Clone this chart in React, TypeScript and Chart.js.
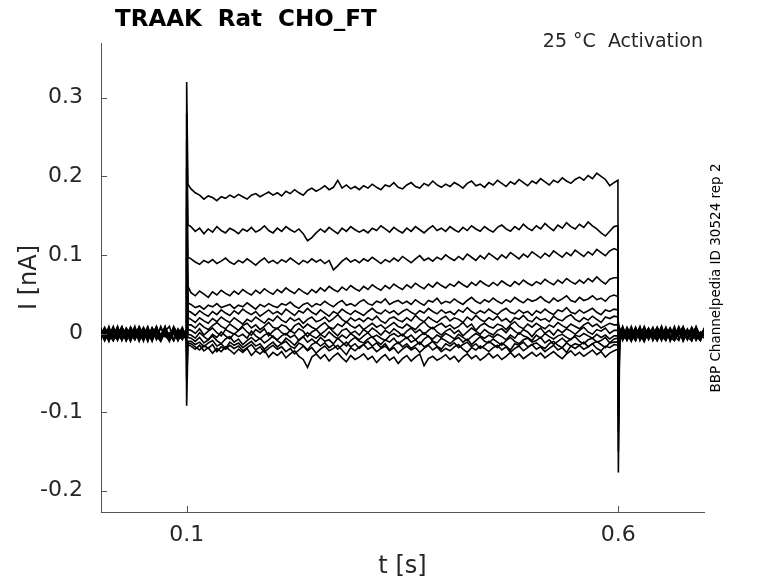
import { useEffect, useRef } from "react";
import { Chart, registerables, Plugin } from "chart.js";

Chart.register(...registerables);

// sample times (s): baseline, step onset, step (5 ms), step offset, tail
const times = [
  0, 0.005, 0.01, 0.015, 0.02, 0.025, 0.03, 0.035, 0.04, 0.045,
  0.05, 0.055, 0.06, 0.065, 0.07, 0.075, 0.08, 0.085, 0.09, 0.095, 0.0995,
  0.1, 0.1015,
  0.105, 0.11, 0.115, 0.12, 0.125, 0.13, 0.135, 0.14, 0.145, 0.15,
  0.155, 0.16, 0.165, 0.17, 0.175, 0.18, 0.185, 0.19, 0.195, 0.2,
  0.205, 0.21, 0.215, 0.22, 0.225, 0.23, 0.235, 0.24, 0.245, 0.25,
  0.255, 0.26, 0.265, 0.27, 0.275, 0.28, 0.285, 0.29, 0.295, 0.3,
  0.305, 0.31, 0.315, 0.32, 0.325, 0.33, 0.335, 0.34, 0.345, 0.35,
  0.355, 0.36, 0.365, 0.37, 0.375, 0.38, 0.385, 0.39, 0.395, 0.4,
  0.405, 0.41, 0.415, 0.42, 0.425, 0.43, 0.435, 0.44, 0.445, 0.45,
  0.455, 0.46, 0.465, 0.47, 0.475, 0.48, 0.485, 0.49, 0.495, 0.5,
  0.505, 0.51, 0.515, 0.52, 0.525, 0.53, 0.535, 0.54, 0.545, 0.55,
  0.555, 0.56, 0.565, 0.57, 0.575, 0.58, 0.585, 0.59, 0.595,
  0.5995, 0.6, 0.6015,
  0.605, 0.61, 0.615, 0.62, 0.625, 0.63, 0.635, 0.64, 0.645, 0.65,
  0.655, 0.66, 0.665, 0.67, 0.675, 0.68, 0.685, 0.69, 0.695, 0.7,
];

// current traces in pA, one per voltage step
const traceA = [
  6, -9, 4, -3, 8, -7, 2, -10, 5, -1, 7, -8, 3, -6, 9, -4, 1, -9, 6, -2, -5,
  320, 190,
  184, 179, 176, 171, 175, 173, 169, 174, 172, 176,
  173, 177, 174, 171, 176, 178, 174, 177, 180, 176,
  179, 175, 181, 178, 183, 179, 176, 182, 185, 181,
  184, 188, 183, 186, 195, 185, 189, 184, 187, 183,
  188, 185, 190, 186, 183, 189, 187, 192, 186, 184,
  189, 192, 187, 185, 191, 188, 194, 189, 186, 190,
  187, 192, 189, 185, 191, 194, 188, 190, 186, 192,
  189, 195, 191, 187, 193, 190, 196, 192, 188, 194,
  191, 197, 193, 189, 195, 192, 198, 194, 191, 196,
  199, 195, 201, 197, 204, 200, 196, 188, 192,
  195, -177,
  -8, 5, -9, 3, -4, 8, -10, 2, -6, 7, -3, -9, 4, -1, 6, -8, 1, -5, 7, -7, 2,
];
const traceB = [
  -7, 4, -10, 6, -2, -8, 5, -4, 9, -9, 1, -5, 7, -3, -10, 3, -6, 8, -1, -8, 4,
  280, 138,
  136, 130, 134, 127, 133, 129, 136, 131, 128, 134,
  131, 127, 133, 130, 135, 129, 132, 137, 131, 128,
  134, 130, 136, 132, 129, 133, 127, 118, 122, 128,
  133, 129, 135, 131, 127, 134, 130, 136, 132, 129,
  132, 128, 134, 131, 137, 133, 129, 135, 131, 128,
  134, 130, 136, 132, 128, 133, 137, 131, 134, 130,
  136, 132, 129, 135, 131, 137, 133, 130, 136, 132,
  129, 135, 138, 133, 130, 136, 132, 139, 134, 131,
  137, 133, 140, 135, 131, 138, 134, 141, 136, 133,
  139, 135, 142, 137, 133, 128, 124, 130, 136,
  137, -150,
  5, -9, 2, -6, 7, -3, -10, 4, -1, 8, -7, 3, -5, -9, 6, -2, 5, -8, 1, -4, 7,
];
const traceC = [
  3, -8, 7, -5, -1, 9, -9, 2, -4, 6, -7, 1, -10, 5, -3, 8, -6, 0, -9, 4, -2,
  245, 97,
  95, 91, 88, 93, 90, 94, 89, 92, 96, 91,
  88, 93, 90, 95, 91, 87, 92, 96, 90, 93,
  89, 94, 91, 96, 92, 88, 93, 90, 95, 91,
  94, 89, 93, 81, 86, 92, 96, 91, 94, 90,
  95, 92, 97, 93, 89, 94, 91, 96, 92, 98,
  94, 90, 95, 99, 93, 96, 92, 97, 94, 100,
  96, 93, 98, 94, 101, 97, 93, 99, 95, 102,
  98, 94, 100, 96, 103, 99, 95, 101, 97, 104,
  100, 96, 102, 98, 105, 101, 97, 103, 99, 106,
  102, 98, 104, 100, 107, 103, 99, 105, 108,
  106, -125,
  -6, 7, -3, -9, 4, -1, 8, -7, 2, -5, 9, -8, 3, -2, 6, -10, 1, 5, -6, -3, 7,
];
const traceD = [
  -5, 8, -2, -9, 4, -6, 7, -1, -8, 3, -10, 6, -4, 9, -7, 1, -3, 5, -9, 2, -6,
  210, 60,
  52, 48, 54, 50, 46, 53, 49, 55, 51, 48,
  54, 50, 56, 52, 49, 55, 51, 57, 53, 50,
  56, 52, 58, 54, 51, 57, 53, 50, 56, 52,
  58, 54, 60, 56, 53, 59, 55, 61, 57, 54,
  60, 56, 62, 58, 55, 61, 57, 63, 59, 56,
  62, 58, 64, 60, 57, 63, 59, 65, 61, 58,
  63, 60, 66, 62, 59, 65, 61, 67, 63, 60,
  65, 61, 67, 63, 60, 66, 62, 68, 64, 61,
  66, 63, 69, 65, 62, 68, 64, 70, 66, 63,
  68, 64, 70, 66, 72, 67, 63, 69, 71,
  71, -105,
  2, -7, 5, -10, 3, -2, 7, -8, 1, -4, 9, -6, 4, -9, 0, 6, -5, -1, 8, -7, 3,
];
const traceE = [
  7, -3, -9, 5, -6, 2, -8, 8, -1, -5, 4, -9, 6, -2, -7, 3, 9, -8, 1, -4, 5,
  180, 39,
  37, 33, 35, 31, 36, 34, 38, 33, 35, 37,
  32, 36, 34, 39, 35, 31, 37, 34, 38, 35,
  33, 38, 36, 40, 35, 32, 37, 39, 34, 38,
  36, 41, 37, 34, 39, 42, 36, 38, 35, 40,
  43, 38, 36, 41, 39, 44, 37, 40, 42, 38,
  41, 37, 43, 39, 36, 42, 40, 45, 38, 41,
  39, 44, 40, 37, 42, 46, 41, 38, 43, 40,
  45, 41, 38, 43, 40, 46, 42, 39, 44, 41,
  43, 47, 42, 39, 45, 41, 44, 48, 42, 40,
  46, 42, 44, 48, 43, 45, 41, 47, 49,
  47, -88,
  -4, 8, -6, 1, -9, 5, -2, 7, -8, 3, -5, 6, -10, 2, -1, 8, -7, 4, -3, -9, 6,
];
const traceF = [
  -9, 2, 6, -4, -7, 8, -1, -6, 3, -10, 5, -3, 7, -8, 0, 4, -5, 9, -2, -7, 1,
  160, 29,
  27, 23, 29, 25, 22, 28, 24, 30, 26, 23,
  29, 25, 31, 27, 24, 28, 22, 26, 30, 25,
  28, 24, 31, 27, 23, 29, 26, 32, 27, 24,
  30, 26, 22, 28, 25, 31, 27, 24, 29, 26,
  23, 28, 32, 27, 25, 30, 26, 29, 24, 28,
  31, 27, 24, 29, 26, 32, 28, 25, 30, 26,
  28, 24, 30, 27, 33, 28, 25, 29, 26, 31,
  27, 24, 29, 32, 27, 25, 30, 26, 28, 23,
  29, 26, 31, 27, 24, 30, 28, 33, 27, 25,
  30, 26, 29, 32, 27, 24, 30, 28, 31,
  30, -75,
  3, -6, 8, -2, -9, 5, -4, 1, -7, 7, -1, -8, 4, -5, 9, -3, 2, -9, 6, -2, -6,
];
const traceG = [
  4, -6, 9, -8, 1, -3, 6, -9, 3, -5, 8, -2, -7, 5, -4, 2, -10, 7, -1, -6, 3,
  140, 20,
  18, 14, 20, 16, 13, 19, 15, 21, 17, 14,
  20, 16, 12, 18, 15, 21, 17, 13, 19, 16,
  22, 17, 14, 20, 16, 19, 13, 18, 21, 15,
  17, 21, 15, 19, 24, 18, 14, 20, 16, 19,
  15, 20, 17, 22, 16, 13, 19, 21, 17, 15,
  20, 16, 23, 18, 15, 21, 17, 14, 19, 22,
  16, 20, 18, 14, 21, 17, 23, 18, 15, 20,
  17, 22, 16, 19, 14, 20, 18, 23, 17, 15,
  21, 17, 19, 15, 22, 18, 16, 21, 24, 18,
  15, 20, 17, 22, 18, 14, 21, 19, 22,
  21, -60,
  -7, 2, -4, 9, -6, 3, -8, 6, -2, -9, 5, -1, 7, -5, 1, -7, 4, -3, 8, -8, 2,
];
const traceH = [
  -2, 7, -7, 3, -9, 5, -4, 8, -6, 1, -8, 4, -3, 9, -5, 2, -9, 6, -1, -7, 4,
  120, 11,
  11, 7, 13, 8, 5, 10, 14, 9, 6, 12,
  8, 4, 10, 13, 7, 11, 5, 9, 14, 8,
  6, 11, 9, 3, 10, 13, 7, 12, 8, 5,
  10, 14, 8, 6, 12, 9, 15, 10, 7, 11,
  5, 9, 13, 8, 11, 6, 10, 14, 9, 7,
  12, 8, 5, 11, 15, 9, 6, 10, 13, 8,
  11, 6, 9, 14, 8, 12, 4, 10, 13, 9,
  7, 12, 10, 5, 11, 15, 9, 6, 12, 8,
  13, 9, 6, 11, 8, 14, 10, 7, 12, 9,
  6, 11, 14, 9, 12, 7, 10, 13, 11,
  11, -48,
  6, -3, -8, 4, -1, 7, -9, 2, -5, 8, -4, 1, -7, 5, -2, 9, -6, 3, -9, 0, 5,
];
const traceI = [
  8, -4, 1, -9, 6, -2, -7, 4, -5, 9, -1, -8, 3, -6, 7, -3, -9, 5, -2, 8, -5,
  95, 5,
  4, 0, 6, -2, 3, 7, 1, -3, 5, 2,
  -1, 4, 8, 2, -2, 5, 1, 6, -3, 3,
  7, 1, -2, 4, 0, 6, 3, -4, 2, 5,
  -1, 3, 8, 2, -3, 4, 6, 0, 3, -2,
  5, 1, 7, 3, -2, 4, 0, 6, 2, -3,
  3, 7, 1, 5, -1, 4, 8, 2, -2, 3,
  6, 0, 4, -3, 2, 7, 3, -1, 5, 1,
  -2, 4, 6, 1, 8, 3, -1, 5, 2, -4,
  3, 7, 0, 4, -2, 5, 1, 6, 3, -1,
  4, 8, 2, -1, 5, 3, 7, 0, 4,
  4, -35,
  -1, 6, -7, 3, -4, 9, -8, 1, -3, 7, -9, 4, -6, 2, -1, 8, -5, -9, 3, -2, 6,
];
const traceJ = [
  -6, 1, -8, 7, -4, 3, -9, 5, -2, 8, -7, 2, -5, 6, -9, 1, -3, 7, -6, 4, -8,
  60, -1,
  -2, -6, 1, -4, -8, -1, -5, 2, -3, -7,
  0, -4, -1, -6, 3, -3, -7, -2, 1, -5,
  -8, -3, 0, -5, -2, -9, -4, 1, -3, -6,
  -1, -5, 2, -3, -7, -2, -6, 0, -4, -8,
  -3, 1, -5, -2, -6, -9, -3, 0, -4, -1,
  -6, -2, -8, -3, 1, -4, -7, -2, -5, 0,
  -3, -7, -1, -5, -9, -4, 0, -3, -6, -2,
  -5, -1, -4, -8, -2, -6, 1, -3, -5, -9,
  -2, -6, 0, -4, -7, -3, -1, -5, -8, -2,
  -4, 0, -3, -6, -1, -5, -2, -7, -3,
  -3, -20,
  4, -8, 1, -5, 7, -3, -9, 6, -1, 2, -7, 8, -4, -2, 5, -8, 3, -6, 9, -4, 1,
];
const traceK = [
  2, -9, 5, -3, 8, -6, 0, -8, 6, -4, 3, -10, 7, -1, -5, 9, -7, 2, -4, 6, -3,
  20, -5,
  -6, -10, -5, -12, -8, -3, -9, -13, -7, -4,
  -11, -7, -14, -9, -5, -10, -6, -12, -8, -3,
  -9, -13, -6, -10, -15, -8, -4, -11, -7, -12,
  -5, -10, -8, -13, -6, -11, -16, -9, -5, -10,
  -12, -7, -4, -10, -14, -8, -11, -6, -13, -9,
  -5, -11, -8, -14, -7, -3, -10, -12, -6, -9,
  -13, -8, -5, -11, -7, -14, -9, -4, -10, -12,
  -7, -11, -15, -9, -5, -10, -13, -8, -6, -11,
  -9, -5, -12, -8, -14, -10, -6, -11, -7, -4,
  -10, -13, -8, -6, -11, -9, -5, -12, -7,
  -6, -8,
  -5, 3, -8, 6, -2, -6, 9, -4, 1, -9, 4, -3, 7, -7, 2, -1, 6, -9, 3, -5, 8,
];
const traceL = [
  -8, 5, -3, 9, -6, 1, -9, 4, -2, 7, -5, 2, -8, 6, -3, 8, -7, 0, -4, 5, -9,
  -25, -10,
  -10, -14, -11, -17, -12, -9, -16, -13, -19, -11,
  -15, -12, -18, -14, -10, -16, -13, -20, -15, -11,
  -17, -13, -10, -16, -19, -12, -15, -21, -14, -11,
  -16, -12, -18, -14, -20, -15, -11, -17, -13, -19,
  -14, -10, -16, -12, -18, -13, -21, -15, -11, -17,
  -13, -19, -15, -11, -17, -14, -10, -16, -20, -13,
  -16, -12, -18, -14, -11, -17, -13, -19, -15, -10,
  -14, -18, -12, -16, -21, -13, -15, -11, -17, -14,
  -12, -16, -19, -13, -10, -15, -18, -12, -16, -13,
  -15, -11, -17, -13, -10, -14, -18, -12, -11,
  -11, 8,
  7, -4, 2, -9, 5, -6, 3, -2, 8, -8, 1, -5, 6, -3, -9, 4, -1, 7, -6, 2, -4,
];
const traceM = [
  5, -7, 2, -4, 9, -9, 3, -6, 7, -2, -8, 4, -1, 8, -5, 1, -9, 6, -3, 3, -7,
  -60, -12,
  -13, -17, -21, -15, -19, -14, -23, -17, -20, -15,
  -19, -16, -22, -18, -14, -21, -17, -24, -19, -15,
  -20, -17, -23, -19, -26, -21, -16, -22, -18, -25,
  -20, -16, -22, -19, -15, -21, -27, -18, -22, -17,
  -14, -20, -17, -23, -19, -16, -22, -18, -25, -20,
  -16, -21, -18, -24, -19, -15, -21, -17, -23, -19,
  -22, -17, -14, -20, -24, -18, -21, -16, -19, -23,
  -18, -15, -21, -17, -24, -19, -16, -22, -18, -14,
  -20, -17, -23, -19, -15, -21, -18, -24, -16, -19,
  -15, -20, -17, -13, -19, -22, -16, -18, -14,
  -15, 10,
  -3, 9, -5, 1, -8, 4, -2, 6, -9, 3, -4, 7, -7, 2, -1, 5, -8, 8, -2, -6, 4,
];
const traceN = [
  -4, 6, -9, 3, -1, 8, -6, 2, -8, 5, -3, 9, -7, 1, -5, 7, -2, -9, 4, -6, 2,
  -92, -14,
  -16, -20, -15, -22, -18, -25, -19, -23, -17, -21,
  -26, -20, -24, -19, -28, -22, -26, -21, -30, -24,
  -28, -23, -31, -26, -22, -29, -33, -43, -30, -26,
  -32, -27, -35, -29, -25, -31, -36, -28, -33, -30,
  -26, -33, -29, -37, -31, -27, -34, -30, -38, -32,
  -28, -35, -30, -26, -41, -32, -29, -34, -31, -27,
  -33, -29, -36, -30, -26, -32, -28, -34, -30, -25,
  -31, -27, -33, -29, -24, -30, -26, -32, -28, -24,
  -29, -25, -31, -27, -23, -28, -32, -26, -22, -28,
  -24, -29, -25, -21, -27, -23, -30, -25, -22,
  -20, 15,
  1, -6, 4, -3, 8, -9, 2, -5, 6, -1, -8, 3, -4, 9, -6, 1, -7, 5, -2, -9, 3,
];

const traces = [traceA, traceB, traceC, traceD, traceE, traceF, traceG, traceH, traceI, traceJ, traceK, traceL, traceM, traceN];

const xTicks = [0.1, 0.6];
const yTicks = [-0.2, -0.1, 0, 0.1, 0.2, 0.3];

const FONT = "DejaVu Sans";
const AXIS = "#555555";
const TEXT = "#262626";

const decorations: Plugin<"line"> = {
  id: "decorations",
  afterDraw(chart) {
    const { ctx, chartArea, scales } = chart;
    ctx.save();
    // inward tick marks
    ctx.strokeStyle = AXIS;
    ctx.lineWidth = 1;
    ctx.beginPath();
    yTicks.forEach((v) => {
      const y = Math.round(scales.y.getPixelForValue(v)) + 0.5;
      ctx.moveTo(chartArea.left, y);
      ctx.lineTo(chartArea.left + 6, y);
    });
    xTicks.forEach((v) => {
      const x = Math.round(scales.x.getPixelForValue(v)) + 0.5;
      ctx.moveTo(x, chartArea.bottom);
      ctx.lineTo(x, chartArea.bottom - 6);
    });
    ctx.stroke();

    ctx.fillStyle = "#000";
    ctx.textBaseline = "alphabetic";
    ctx.textAlign = "left";
    ctx.font = `bold 23px ${FONT}`;
    ctx.fillText("TRAAK  Rat  CHO_FT", 115, 26);

    ctx.fillStyle = TEXT;
    ctx.textAlign = "right";
    ctx.font = `19px ${FONT}`;
    ctx.fillText("25 °C  Activation", 703, 47);

    ctx.textAlign = "center";
    ctx.textBaseline = "middle";
    ctx.font = `24px ${FONT}`;
    ctx.fillText("t [s]", (chartArea.left + chartArea.right) / 2, 567);

    ctx.save();
    ctx.translate(30, (chartArea.top + chartArea.bottom) / 2);
    ctx.rotate(-Math.PI / 2);
    ctx.fillText("I [nA]", 0, 0);
    ctx.restore();

    ctx.save();
    ctx.fillStyle = "#000";
    ctx.translate(716, 278);
    ctx.rotate(-Math.PI / 2);
    ctx.font = `13.5px ${FONT}`;
    ctx.fillText("BBP Channelpedia ID 30524 rep 2", 0, 0);
    ctx.restore();

    ctx.restore();
  },
};

const App = () => {
  const canvasRef = useRef<HTMLCanvasElement>(null);
  const chartRef = useRef<Chart<"line"> | null>(null);

  useEffect(() => {
    document.body.style.margin = "0";
    if (!canvasRef.current) return;

    chartRef.current = new Chart(canvasRef.current, {
      type: "line",
      data: {
        datasets: traces.map((tr) => ({
          data: times.map((t, i) => ({ x: t, y: tr[i] / 1000 })),
          borderColor: "#000000",
          borderWidth: 1.6,
          pointRadius: 0,
          tension: 0,
          fill: false,
        })),
      },
      options: {
        responsive: false,
        animation: false,
        events: [],
        layout: { padding: { top: 43, right: 74, left: 0, bottom: 0 } },
        plugins: {
          legend: { display: false },
          tooltip: { enabled: false },
        },
        scales: {
          x: {
            type: "linear",
            min: 0.0008,
            max: 0.6992,
            afterBuildTicks: (s) => {
              s.ticks = xTicks.map((v) => ({ value: v }));
            },
            afterFit: (s) => {
              s.height = 71;
            },
            ticks: {
              color: TEXT,
              font: { family: FONT, size: 22 },
              padding: 10,
              maxRotation: 0,
              callback: (v) => String(v),
            },
            grid: { display: false, drawTicks: false },
            border: { display: true, color: AXIS, width: 1 },
          },
          y: {
            type: "linear",
            min: -0.2271,
            max: 0.3696,
            afterBuildTicks: (s) => {
              s.ticks = yTicks.map((v) => ({ value: v }));
            },
            afterFit: (s) => {
              s.width = 101;
            },
            ticks: {
              color: TEXT,
              font: { family: FONT, size: 22 },
              padding: 18,
              callback: (v) => (Number(v) === 0 ? "0" : Number(v).toFixed(1)),
            },
            grid: { display: false, drawTicks: false },
            border: { display: true, color: AXIS, width: 1 },
          },
        },
      },
      plugins: [decorations],
    });

    return () => {
      chartRef.current?.destroy();
      chartRef.current = null;
    };
  }, []);

  return (
    <div style={{ width: 778, height: 583, background: "#fff" }}>
      <canvas ref={canvasRef} width={778} height={583} style={{ display: "block" }} />
    </div>
  );
};

export default App;
